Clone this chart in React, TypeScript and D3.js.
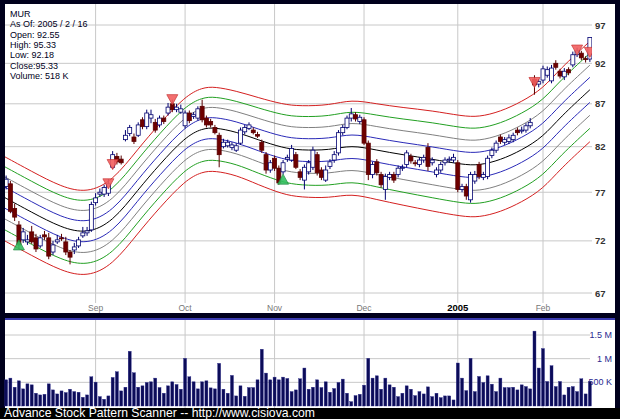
import React from 'react';
import * as d3 from 'd3';

// ticker / header
const symbol = 'MUR';
const asOf = '2005 / 2 / 16';
const lastBar = { open: '92.55', high: '95.33', low: '92.18', close: '95.33', volume: '518 K' };

// daily OHLC, Aug 3 2004 .. Feb 16 2005 (138 trading days)
const opens = [
  77.6, 77.9, 75.3, 73.6, 72.1, 71.9, 72.9, 72.3, 71.5, 72.6, 72.3, 70.9, 71.9, 72.3, 71.9, 70.9, 71.1, 71.5, 72.5, 72.8,
  73.1, 75.9, 76.8, 76.8, 76.9, 79.7, 80.9, 80.6, 82.8, 83.5, 83.1, 83.3, 85.1, 84.3, 85.3, 84.8, 84.5, 85.3, 85.9, 87.0,
  86.3, 86.0, 84.4, 85.9, 85.5, 85.3, 86.7, 85.3, 84.9, 84.2, 83.3, 82.0, 82.1, 81.9, 81.6, 82.4, 83.7, 84.1, 83.9, 83.4,
  82.5, 81.1, 79.4, 80.7, 79.6, 79.2, 80.6, 80.5, 81.1, 79.2, 78.3, 79.2, 79.7, 81.1, 79.4, 78.3, 79.8, 80.5, 81.3, 83.6,
  84.2, 85.3, 85.7, 84.9, 85.1, 82.4, 78.9, 80.3, 78.9, 77.3, 78.6, 78.9, 78.9, 79.6, 80.0, 80.9, 80.2, 80.0, 80.5, 81.9,
  80.2, 78.9, 79.4, 80.2, 80.5, 80.5, 80.2, 77.3, 77.6, 76.2, 78.2, 80.0, 78.6, 78.7, 81.0, 81.6, 83.1, 82.5, 82.6, 82.8,
  83.9, 83.8, 83.9, 84.4, 90.0, 89.4, 89.9, 90.5, 89.8, 92.0, 91.0, 90.3, 91.2, 91.8, 93.1, 93.3, 92.6, 92.55,
];
const highs = [
  78.8, 78.2, 75.8, 74.0, 73.3, 72.6, 73.5, 72.7, 72.6, 73.0, 72.8, 72.0, 72.6, 72.7, 72.4, 71.1, 71.8, 72.4, 73.4, 73.4,
  76.0, 76.9, 77.4, 77.8, 78.4, 81.5, 81.3, 81.0, 83.9, 84.5, 83.5, 84.8, 85.4, 86.3, 86.3, 85.2, 85.6, 85.6, 87.1, 87.5,
  87.0, 86.9, 86.2, 86.2, 86.0, 86.7, 87.5, 85.6, 85.2, 84.5, 83.6, 82.9, 82.8, 82.5, 82.4, 84.2, 84.5, 84.8, 84.2, 83.7,
  82.8, 81.4, 80.5, 81.0, 79.9, 80.5, 81.1, 82.2, 81.4, 79.5, 80.0, 80.5, 82.0, 81.4, 79.7, 79.9, 80.6, 81.5, 83.9, 84.5,
  85.6, 86.5, 86.0, 85.7, 85.4, 82.7, 80.3, 80.6, 79.2, 79.0, 79.2, 79.2, 79.9, 80.0, 81.6, 81.2, 80.5, 80.8, 81.1, 82.4,
  80.8, 79.7, 80.3, 80.8, 80.9, 81.2, 80.5, 77.9, 77.9, 79.2, 79.3, 80.3, 79.2, 81.0, 81.9, 82.7, 83.4, 83.1, 83.4, 83.6,
  84.2, 84.3, 84.7, 85.3, 90.5, 90.0, 91.7, 91.6, 91.8, 92.4, 91.3, 91.4, 91.5, 93.5, 94.0, 93.6, 92.9, 95.33,
];
const lows = [
  77.3, 74.8, 74.0, 71.2, 71.8, 71.6, 71.7, 70.9, 71.3, 72.1, 70.2, 70.6, 71.7, 72.0, 70.6, 69.7, 70.7, 71.3, 72.3, 72.5,
  72.9, 75.6, 76.5, 76.5, 76.6, 79.5, 80.0, 80.0, 82.6, 83.2, 82.3, 83.1, 84.0, 84.0, 84.7, 83.6, 84.2, 84.6, 85.6, 86.0,
  86.0, 85.8, 84.1, 84.7, 85.2, 85.0, 84.8, 84.2, 84.2, 83.4, 79.7, 81.8, 81.9, 81.6, 81.4, 82.2, 83.4, 83.9, 83.4, 83.0,
  81.3, 79.0, 79.1, 79.3, 77.8, 78.9, 80.3, 80.3, 79.5, 78.3, 77.3, 78.9, 79.4, 78.8, 78.3, 78.1, 79.5, 80.2, 81.0, 83.3,
  84.0, 84.9, 84.9, 84.6, 82.2, 78.3, 78.5, 78.8, 77.5, 76.2, 78.3, 78.0, 78.6, 79.3, 79.7, 80.1, 79.8, 79.7, 80.2, 79.3,
  79.9, 78.6, 79.1, 79.9, 80.2, 80.2, 77.0, 77.0, 76.2, 75.9, 77.9, 78.4, 78.3, 78.4, 80.7, 81.3, 82.3, 82.2, 82.3, 82.5,
  83.3, 83.5, 83.6, 84.1, 88.1, 89.0, 89.5, 90.2, 89.5, 91.2, 90.1, 89.9, 90.5, 91.5, 92.8, 92.4, 92.1, 92.18,
];
const closes = [
  78.4, 75.0, 74.4, 71.6, 72.9, 72.1, 71.9, 71.2, 72.3, 72.4, 70.5, 71.6, 72.1, 72.2, 70.9, 70.4, 71.4, 72.1, 72.8, 73.0,
  75.7, 76.4, 77.0, 77.5, 77.9, 81.1, 80.3, 80.2, 83.3, 84.2, 82.6, 84.5, 84.3, 85.9, 85.7, 83.9, 85.3, 84.9, 86.6, 86.3,
  86.6, 86.4, 85.9, 85.0, 85.7, 86.4, 85.1, 84.5, 84.5, 83.6, 81.1, 82.5, 82.5, 82.2, 82.1, 83.9, 84.2, 84.5, 83.6, 83.2,
  81.6, 79.4, 80.2, 79.6, 78.0, 80.2, 80.8, 81.8, 79.7, 78.6, 79.7, 80.2, 81.6, 79.1, 78.6, 79.4, 80.3, 81.1, 83.6, 84.2,
  85.3, 85.8, 85.2, 85.4, 82.4, 78.9, 80.0, 79.1, 77.8, 78.7, 78.9, 78.3, 79.6, 79.7, 81.3, 80.4, 80.1, 80.5, 80.8, 79.8,
  80.5, 79.4, 80.0, 80.5, 80.6, 80.8, 77.3, 77.6, 76.6, 78.9, 78.9, 78.7, 78.9, 80.7, 81.6, 82.4, 82.6, 82.8, 83.0, 83.3,
  83.6, 83.9, 84.4, 84.8, 89.3, 89.7, 91.3, 91.2, 91.4, 91.5, 90.4, 91.0, 90.8, 93.1, 93.6, 92.7, 92.5, 95.33,
];
// daily volume, thousands of shares
const volumesK = [
  553, 589, 397, 532, 362, 468, 447, 270, 234, 248, 468, 340, 255, 319, 284, 355, 305, 291, 184, 234,
  617, 504, 199, 142, 213, 603, 724, 319, 397, 1156, 702, 397, 426, 497, 511, 589, 390, 270, 426, 511,
  454, 355, 1007, 617, 511, 362, 511, 532, 383, 362, 901, 355, 270, 646, 213, 426, 206, 390, 390, 553,
  1199, 695, 553, 610, 553, 610, 582, 305, 340, 575, 802, 355, 397, 553, 390, 511, 291, 369, 497, 568,
  270, 92, 220, 248, 440, 1007, 589, 638, 355, 589, 447, 397, 199, 270, 426, 355, 220, 305, 255, 404,
  199, 270, 177, 213, 213, 128, 908, 589, 326, 1007, 305, 624, 497, 638, 461, 305, 589, 390, 390, 397,
  340, 447, 411, 362, 1582, 802, 1213, 518, 851, 411, 518, 234, 397, 411, 305, 575, 255, 518,
];

// envelope channel: smoothed centre line (sampled at day index) and step between bands in %
const bandIdx = [-1, 6, 13, 19, 25, 31, 36, 42, 46, 49, 54, 59, 65, 69, 76, 81, 87, 93, 100, 107, 111, 116, 121, 126, 130, 137];
const bandMid = [76.6, 74.9, 73.3, 72.7, 73.9, 77.3, 80.0, 83.1, 84.1, 84.2, 83.7, 82.8, 81.85, 81.6, 81.6, 82.2, 81.6, 81.1, 80.6, 80.0, 79.9, 80.5, 81.6, 83.1, 85.4, 88.7];
const bandStep = [1.45, 1.45, 1.45, 1.45, 1.45, 1.45, 1.45, 1.45, 1.45, 1.45, 1.45, 1.5, 1.55, 1.57, 1.6, 1.62, 1.65, 1.68, 1.73, 1.73, 1.73, 1.73, 1.73, 1.73, 1.73, 1.73];
const bandLevels = [4, 3, 2, 1, 0, -1, -2, -3, -4];
const bandColors = ['#d42020', '#22a022', '#808080', '#2a2ab8', '#000000', '#2a2ab8', '#808080', '#22a022', '#d42020'];

const buySignals = [{ index: 3, price: 71.6 }, { index: 65, price: 78.4 }];
const sellSignals = [
  { index: 24, price: 77.9 }, { index: 25, price: 80.0 }, { index: 39, price: 87.5 },
  { index: 124, price: 89.6 }, { index: 134, price: 93.7 }, { index: 137, price: 93.4 },
];

const priceTicks = [67, 72, 77, 82, 87, 92, 97];
const volumeTicks = [
  { value: 500, label: '500 K' },
  { value: 1000, label: '1 M' },
  { value: 1500, label: '1.5 M' },
];
const monthTicks = [
  { label: 'Sep', index: 21, year: false },
  { label: 'Oct', index: 42, year: false },
  { label: 'Nov', index: 63, year: false },
  { label: 'Dec', index: 84, year: false },
  { label: '2005', index: 106, year: true },
  { label: 'Feb', index: 126, year: false },
];

const W = 620;
const H = 419;
const main = { x: 5, y: 4, w: 610, h: 309 };
const plot = { x0: 5, x1: 592, y0: 4, y1: 303 };
const vol = { x: 5, y: 320, w: 610, h: 88 };
const FONT = '"Liberation Sans", Arial, sans-serif';

export default function App() {
  const n = closes.length;
  const x = d3.scaleBand<number>().domain(d3.range(n)).range([4, 592]).paddingInner(0.3).paddingOuter(0.15);
  const bw = x.bandwidth();
  const cx = (i: number) => (x(i) as number) + bw / 2;
  const xi = d3.scaleLinear().domain([0, n - 1]).range([cx(0), cx(n - 1)]);
  const y = d3.scaleLog().domain([67, 97]).range([293, 25]);
  const yv = d3.scaleLinear().domain([0, 1500]).range([406, 335]);

  const bandLine = d3.line<[number, number]>()
    .x((d) => xi(d[0]))
    .y((d) => y(d[1]))
    .curve(d3.curveBasis);

  const tri = (i: number, p: number, down: boolean) => {
    const px = cx(i);
    const py = y(p);
    const p2 = d3.path();
    if (down) {
      p2.moveTo(px - 5.5, py - 5);
      p2.lineTo(px + 5.5, py - 5);
      p2.lineTo(px, py + 5);
    } else {
      p2.moveTo(px - 5.5, py + 5);
      p2.lineTo(px + 5.5, py + 5);
      p2.lineTo(px, py - 5);
    }
    p2.closePath();
    return p2.toString();
  };

  const legend = [
    symbol,
    `As Of: ${asOf}`,
    `Open: ${lastBar.open}`,
    `High: ${lastBar.high}`,
    `Low: ${lastBar.low}`,
    `Close:${lastBar.close}`,
    `Volume: ${lastBar.volume}`,
  ];

  return (
    <>
      <style>{'body{margin:0}'}</style>
      <svg width={W} height={H} style={{ display: 'block' }} fontFamily={FONT}>
        <defs>
          <clipPath id="plotClip">
            <rect x={plot.x0} y={plot.y0} width={plot.x1 - plot.x0} height={plot.y1 - plot.y0} />
          </clipPath>
        </defs>
        <rect width={W} height={H} fill="#00001c" />
        <rect x={0} y={408} width={W} height={H - 408} fill="#000" />
        <rect x={main.x} y={main.y} width={main.w} height={main.h} fill="#fff" />
        <rect x={vol.x} y={318} width={vol.w} height={2} fill="#3a3ab0" />
        <rect x={vol.x} y={vol.y} width={vol.w} height={vol.h} fill="#fff" />

        {/* price grid */}
        {priceTicks.map((t) => (
          <g key={t}>
            <line x1={plot.x0} x2={plot.x1} y1={y(t)} y2={y(t)} stroke="#c8c8c8" />
            <text x={595} y={y(t) + 3.5} fontSize={9.5} fontWeight="bold" fill="#333">{t}</text>
          </g>
        ))}
        {monthTicks.map((m) => (
          <g key={m.label}>
            <line x1={cx(m.index)} x2={cx(m.index)} y1={plot.y0} y2={plot.y1} stroke="#c8c8c8" />
            <line x1={cx(m.index)} x2={cx(m.index)} y1={vol.y} y2={vol.y + vol.h} stroke="#c8c8c8" />
            <text
              x={cx(m.index)}
              y={311}
              textAnchor="middle"
              fontSize={m.year ? 9.5 : 8.5}
              fontWeight={m.year ? 'bold' : 'normal'}
              fill={m.year ? '#000' : '#777'}
            >
              {m.label}
            </text>
          </g>
        ))}

        {/* legend */}
        {legend.map((s, k) => (
          <text key={k} x={10} y={17 + k * 10.3} fontSize={9} fill="#000022">{s}</text>
        ))}

        <g clipPath="url(#plotClip)">
          {/* envelope bands */}
          {bandLevels.map((lv, k) => (
            <path
              key={lv}
              d={bandLine(bandIdx.map((t, j) => [t, bandMid[j] * (1 + (lv * bandStep[j]) / 100)] as [number, number])) || ''}
              fill="none"
              stroke={bandColors[k]}
              strokeWidth={1}
            />
          ))}

          {/* candles */}
          {closes.map((c, i) => {
            const o = opens[i];
            const up = c >= o;
            const col = up ? '#000070' : '#5a0000';
            const top = y(Math.max(o, c));
            const bot = y(Math.min(o, c));
            return (
              <g key={i}>
                <line x1={cx(i)} x2={cx(i)} y1={y(highs[i])} y2={y(lows[i])} stroke={col} />
                <rect
                  x={(x(i) as number) - 0.5}
                  y={top}
                  width={bw + 1}
                  height={Math.max(1, bot - top)}
                  fill={up ? '#fff' : '#6e0000'}
                  stroke={col}
                  strokeWidth={0.8}
                />
              </g>
            );
          })}

          {/* signals */}
          {sellSignals.map((s) => (
            <path key={`s${s.index}`} d={tri(s.index, s.price, true)} fill="#f26060" stroke="#c83030" strokeWidth={0.8} opacity={0.9} />
          ))}
          {buySignals.map((s) => (
            <path key={`b${s.index}`} d={tri(s.index, s.price, false)} fill="#33c060" stroke="#1e8a40" strokeWidth={0.8} opacity={0.9} />
          ))}
        </g>

        {/* volume */}
        {volumeTicks.map((t) => (
          <g key={t.label}>
            <line x1={vol.x} x2={590} y1={yv(t.value)} y2={yv(t.value)} stroke="#c8c8c8" />
            <text x={612} y={yv(t.value) + 3} textAnchor="end" fontSize={9} fill="#2a2a90">{t.label}</text>
          </g>
        ))}
        {volumesK.map((v, i) => (
          <rect
            key={i}
            x={x(i)}
            y={yv(v)}
            width={bw}
            height={yv(0) - yv(v)}
            fill="#0c0c58"
            stroke="#2a2a8a"
            strokeWidth={0.4}
          />
        ))}

        <text x={4} y={416.5} fontSize={12.2} fill="#fff">Advance Stock Pattern Scanner -- http://www.cisiova.com</text>
      </svg>
    </>
  );
}
